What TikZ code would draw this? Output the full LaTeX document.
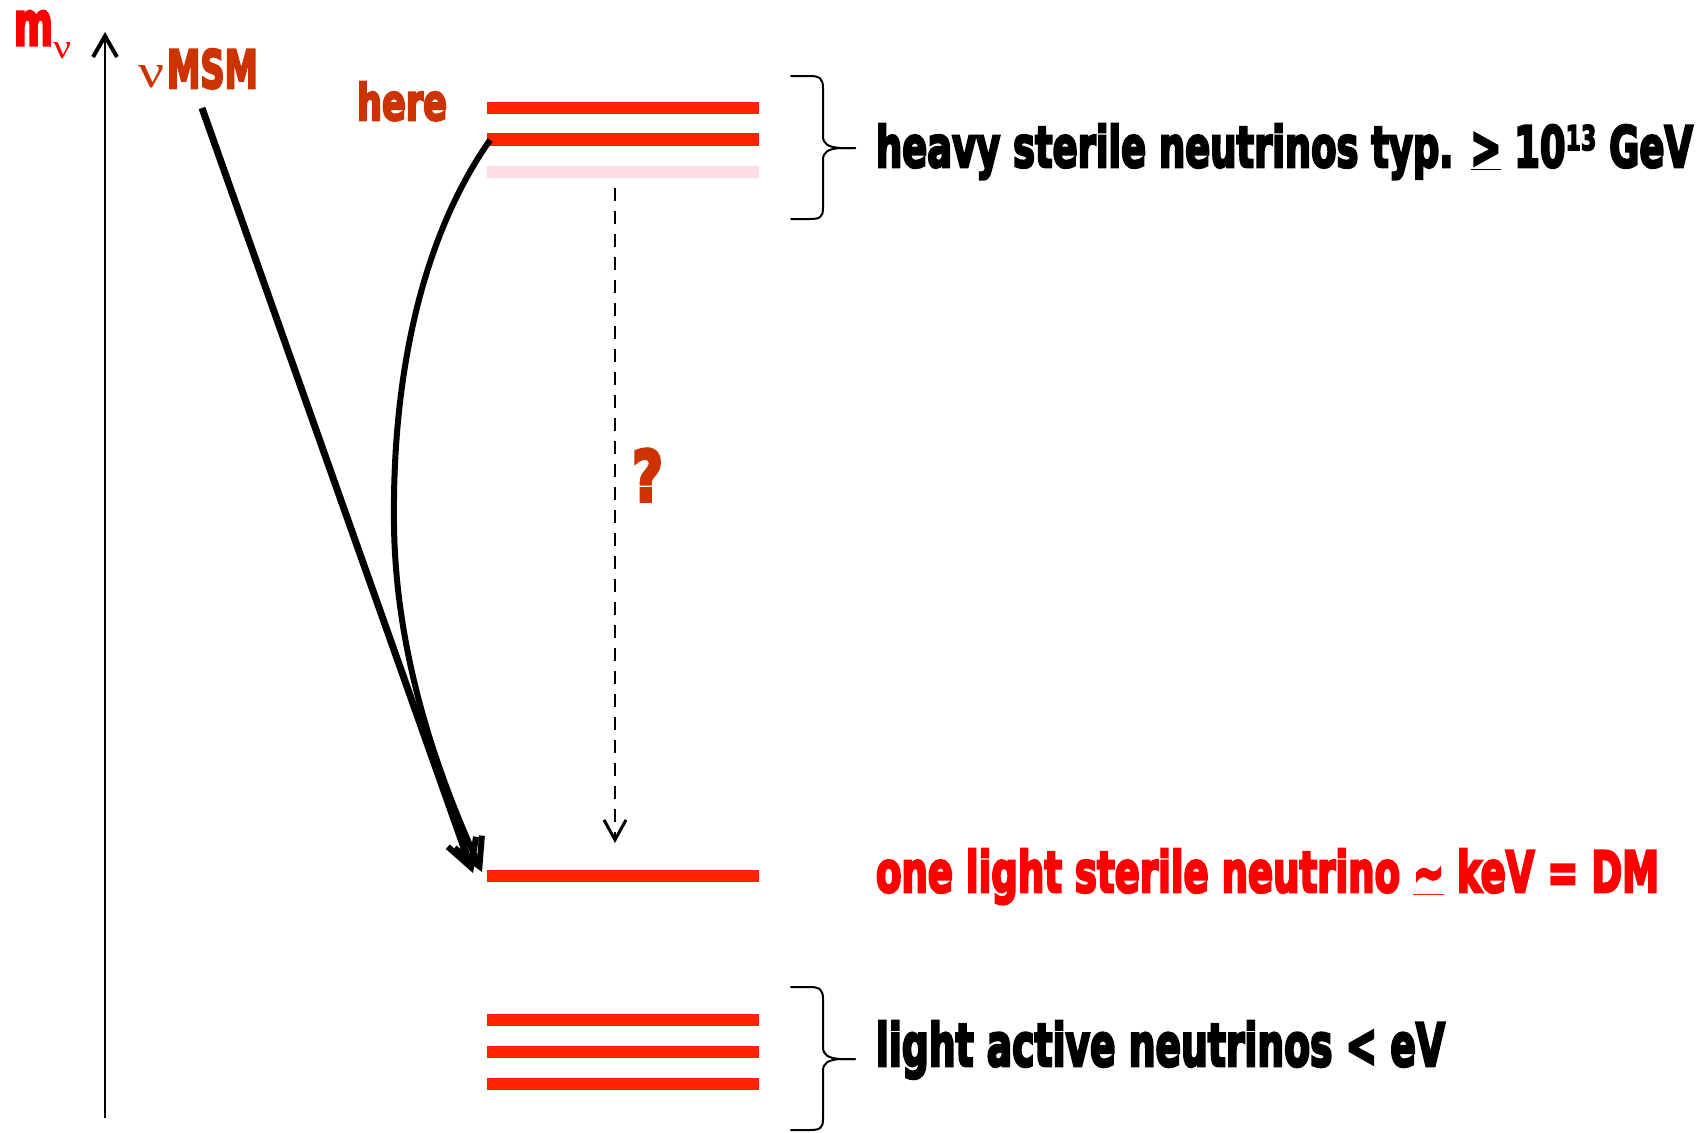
\documentclass[tikz,border=0pt]{standalone}
\usepackage{fontspec}
\setmainfont{DejaVu Sans}
\newfontfamily\heavyf[FakeBold=5]{DejaVu Sans Bold}
\newfontfamily\greekf{Liberation Serif}
\usetikzlibrary{arrows.meta}
\definecolor{barred}{RGB}{255,34,0}
\definecolor{pinkbar}{RGB}{255,221,227}
\definecolor{rust}{RGB}{204,51,0}
\definecolor{pured}{RGB}{255,0,0}
\newcommand\fitbox[3]{\resizebox{#1pt}{#2pt}{\fontsize{40}{48}\heavyf #3}}
\newcommand\fitgreek[2]{\resizebox{#1pt}{#2pt}{\fontsize{40}{48}\greekf ν}}
\begin{document}
\begin{tikzpicture}[x=1pt,y=-1pt,
  lbl/.style={inner sep=0pt, outer sep=0pt, anchor=base west},
  levelbar/.style={fill=barred, draw=none, minimum width=272pt, minimum height=12.5pt, inner sep=0pt},
  brc/.style={line width=2pt, line cap=round, line join=round},
  mybrace/.pic={
    \draw[brc] (0,0) -- (-15,0) .. controls (-27,-1) and (-32,-4) .. (-32,-12) -- (-32,-60) .. controls (-32,-69) and (-35,-72) .. (-45,-72) -- (-64,-72);
    \draw[brc] (0,0) -- (-15,0) .. controls (-27,1) and (-32,4) .. (-32,12) -- (-32,60) .. controls (-32,69) and (-35,71) .. (-45,71) -- (-64,71);
  },
  bigarrow/.style={line width=7pt, -{Straight Barb[length=27pt,width=30pt,line width=6pt]}}
]
\useasboundingbox (0,0) rectangle (1702,1132);

% levels
\node[levelbar] (h1) at (623,108) {};
\node[levelbar] (h2) at (623,139.5) {};
\node[levelbar, fill=pinkbar] (h3) at (623,172) {};
\node[levelbar] (dm) at (623,876) {};
\node[levelbar] (l1) at (623,1020) {};
\node[levelbar] (l2) at (623,1052) {};
\node[levelbar] (l3) at (623,1084) {};

% axis
\coordinate (axb) at (105,1118);
\coordinate (axt) at (105,32);
\draw[line width=2pt, -{Straight Barb[length=21pt,width=24pt,line width=4pt]}] (axb) -- (axt);

% labels
\node[lbl,text=pured] (m) at (14,45) {\fitbox{39}{34}{m}};
\node[lbl,text=pured] (nu1) at (53,59) {\fitgreek{18}{16}};
\node[lbl,text=rust] (nu2) at (138,88) {\fitgreek{26}{22}};
\node[lbl,text=rust] (msm) at (167,88) {\fitbox{91}{39}{MSM}};
\node[lbl,text=rust] (here) at (357,120) {\fitbox{90}{38}{here}};
\node[lbl,text=rust] (q) at (632,501) {\fitbox{31}{52}{?}};
\node[lbl] (heavy) at (876,167) {\fitbox{817}{43}{heavy sterile neutrinos typ. \underline{>} 10\raisebox{.3em}{\scalebox{.6}{13}} GeV}};
\node[lbl,text=pured] (dmtxt) at (876,892) {\fitbox{783}{43}{one light sterile neutrino {\color{barred}\underline{\textcolor{pured}{\textasciitilde}}} keV = DM}};
\node[lbl] (light) at (876,1066) {\fitbox{569}{45}{light active neutrinos < eV}};

% braces
\pic at (855,148) {mybrace};
\pic at (855,1059) {mybrace};

% arrows
\coordinate (msmfoot) at (202,108);
\coordinate (tipA) at (473,873);
\coordinate (h2start) at (490,140);
\coordinate (tipB) at (482,872);
\coordinate (dashtop) at (615,188);
\coordinate (dashtip) at (615,843);
\draw[bigarrow] (msmfoot) -- (tipA);
\draw[bigarrow, line width=6pt] (h2start) .. controls (420,240) and (392,380) .. (394,526) .. controls (396,660) and (440,780) .. (tipB);
\draw[line width=2pt, dash pattern=on 13pt off 10pt, -{Straight Barb[length=20pt,width=22pt,line width=3pt]}] (dashtop) -- (dashtip);
\end{tikzpicture}
\end{document}
